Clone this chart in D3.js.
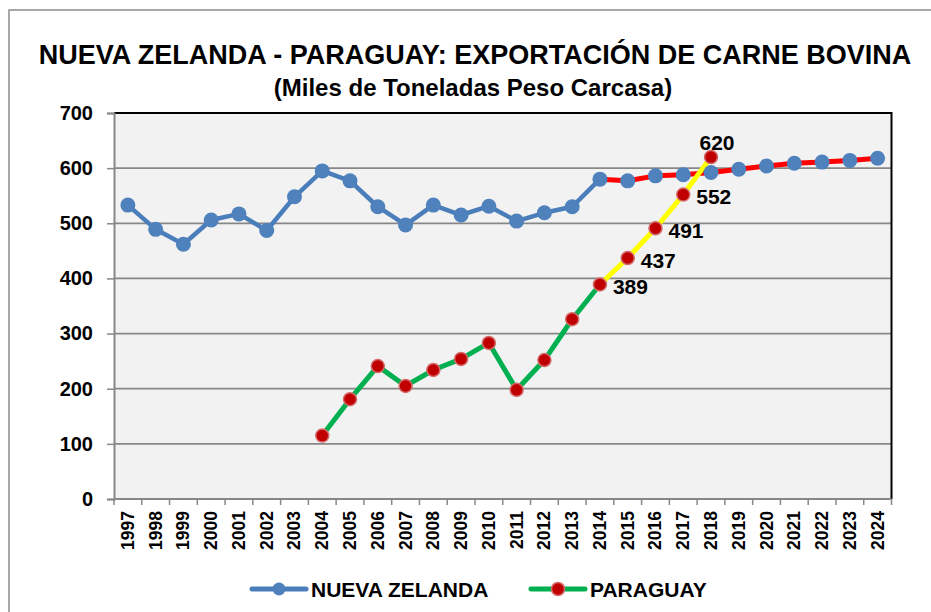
<!DOCTYPE html>
<html>
<head>
<meta charset="utf-8">
<script src="https://cdn.jsdelivr.net/npm/d3@7"></script>
<style>
  body { margin: 0; background: #ffffff; }
  text { font-family: Arial, "Liberation Sans", sans-serif; font-weight: bold; fill: #000; }
</style>
</head>
<body>
<div class="vis-holder"></div>
<script>
// years on the x axis
var years = ["1997","1998","1999","2000","2001","2002","2003","2004","2005","2006",
             "2007","2008","2009","2010","2011","2012","2013","2014","2015","2016",
             "2017","2018","2019","2020","2021","2022","2023","2024"];

// Nueva Zelanda exports, thousand tonnes (one per year)
var nzValues = [533, 489, 462, 506, 517, 487, 548, 595, 577, 530,
                497, 533, 515, 531, 504, 519, 530, 580, 577, 586,
                588, 592, 598, 604, 609, 611, 614, 618];

// Paraguay exports, starting 2004
var pyYears = ["2004","2005","2006","2007","2008","2009","2010","2011","2012","2013",
               "2014","2015","2016","2017","2018"];
var pyValues = [115, 181, 241, 205, 234, 254, 283, 198, 252, 326,
                389, 437, 491, 552, 620];

// years with a printed value label
var labelYears = ["2014","2015","2016","2017","2018"];

// y axis ticks
var yTicks = [0, 100, 200, 300, 400, 500, 600, 700];

var width = 931;
var height = 612;
var margin = { top: 113, bottom: 113, left: 114, right: 39.5 };

var svg = d3.select(".vis-holder")
            .append("svg")
            .attr("width", width)
            .attr("height", height);

// outer chart frame (runs off the right and bottom edges)
svg.append("rect")
   .attr("x", 9)
   .attr("y", 10)
   .attr("width", 960)
   .attr("height", 640)
   .attr("fill", "#ffffff")
   .attr("stroke", "#8c8c8c")
   .attr("stroke-width", 1.5);

var xScale = d3.scaleBand()
               .domain(years)
               .range([margin.left, width - margin.right]);

var yScale = d3.scaleLinear()
               .domain([0, 700])
               .range([height - margin.bottom, margin.top]);

var x = function(yr) { return xScale(yr) + xScale.bandwidth() / 2; };

// plot area background
svg.append("rect")
   .attr("x", margin.left)
   .attr("y", yScale(700))
   .attr("width", width - margin.right - margin.left)
   .attr("height", yScale(0) - yScale(700))
   .attr("fill", "#f2f2f2");

// horizontal gridlines
svg.append("g")
   .selectAll("line")
   .data(yTicks.filter(function(d) { return d > 0 && d < 700; }))
   .enter()
   .append("line")
   .attr("x1", margin.left)
   .attr("x2", width - margin.right)
   .attr("y1", function(d) { return yScale(d); })
   .attr("y2", function(d) { return yScale(d); })
   .attr("stroke", "#878787")
   .attr("stroke-width", 1.8);

// black border on top and right of the plot area
svg.append("path")
   .attr("d", "M" + margin.left + "," + yScale(700) + "H" + (width - margin.right) + "V" + yScale(0))
   .attr("fill", "none")
   .attr("stroke", "#000")
   .attr("stroke-width", 2);

// y axis
var yAxis = svg.append("g")
               .attr("transform", "translate(" + margin.left + ",0)")
               .call(d3.axisLeft(yScale).tickValues(yTicks).tickSize(7).tickPadding(14));
yAxis.select(".domain").attr("stroke", "#878787").attr("stroke-width", 2);
yAxis.selectAll(".tick line").attr("stroke", "#878787").attr("stroke-width", 1.5);
yAxis.selectAll(".tick text")
     .style("font-size", "20px")
     .style("font-weight", "bold")
     .attr("fill", "#000");

// x axis, ticks on band edges
var xAxis = svg.append("g")
               .attr("transform", "translate(0," + yScale(0) + ")");
xAxis.append("line")
     .attr("x1", margin.left)
     .attr("x2", width - margin.right)
     .attr("stroke", "#878787")
     .attr("stroke-width", 2);
xAxis.selectAll(".xtick")
     .data(years.concat(["end"]))
     .enter()
     .append("line")
     .attr("x1", function(d, i) { return i < years.length ? xScale(d) : width - margin.right; })
     .attr("x2", function(d, i) { return i < years.length ? xScale(d) : width - margin.right; })
     .attr("y1", 0)
     .attr("y2", 6)
     .attr("stroke", "#878787")
     .attr("stroke-width", 1.5);
xAxis.selectAll(".xlabel")
     .data(years)
     .enter()
     .append("text")
     .attr("text-anchor", "end")
     .attr("dominant-baseline", "central")
     .attr("transform", function(d) { return "translate(" + x(d) + ",12)rotate(-90)"; })
     .style("font-size", "17.5px")
     .text(function(d) { return d; });

var nzData = years.map(function(yr, i) { return { year: yr, v: nzValues[i] }; });
var pyData = pyYears.map(function(yr, i) { return { year: yr, v: pyValues[i] }; });

var line = d3.line()
             .x(function(d) { return x(d.year); })
             .y(function(d) { return yScale(d.v); });

// Nueva Zelanda line: blue up to 2014, red afterwards
svg.append("path")
   .attr("d", line(nzData.filter(function(d) { return +d.year <= 2014; })))
   .attr("fill", "none")
   .attr("stroke", "#4a7ebb")
   .attr("stroke-width", 4.5)
   .attr("stroke-linejoin", "round");
svg.append("path")
   .attr("d", line(nzData.filter(function(d) { return +d.year >= 2014; })))
   .attr("fill", "none")
   .attr("stroke", "#ff0000")
   .attr("stroke-width", 5)
   .attr("stroke-linejoin", "round");

// Paraguay line: green up to 2014, yellow afterwards
svg.append("path")
   .attr("d", line(pyData.filter(function(d) { return +d.year <= 2014; })))
   .attr("fill", "none")
   .attr("stroke", "#00b050")
   .attr("stroke-width", 5)
   .attr("stroke-linejoin", "round");
svg.append("path")
   .attr("d", line(pyData.filter(function(d) { return +d.year >= 2014; })))
   .attr("fill", "none")
   .attr("stroke", "#ffff00")
   .attr("stroke-width", 5)
   .attr("stroke-linejoin", "round");

// markers
svg.append("g")
   .selectAll("circle")
   .data(nzData)
   .enter()
   .append("circle")
   .attr("cx", function(d) { return x(d.year); })
   .attr("cy", function(d) { return yScale(d.v); })
   .attr("r", 7.5)
   .attr("fill", "#4f81bd");

svg.append("g")
   .selectAll("circle")
   .data(pyData)
   .enter()
   .append("circle")
   .attr("cx", function(d) { return x(d.year); })
   .attr("cy", function(d) { return yScale(d.v); })
   .attr("r", 6.5)
   .attr("fill", "#c00000")
   .attr("stroke", "#d46a6a")
   .attr("stroke-width", 1.5);

// value labels for Paraguay 2014-2018
svg.append("g")
   .selectAll("text")
   .data(pyData.filter(function(d) { return labelYears.indexOf(d.year) >= 0; }))
   .enter()
   .append("text")
   .attr("x", function(d) { return d.year === "2018" ? x(d.year) + 6 : x(d.year) + 13; })
   .attr("y", function(d) { return d.year === "2018" ? yScale(d.v) - 15 : yScale(d.v) + 2; })
   .attr("text-anchor", function(d) { return d.year === "2018" ? "middle" : "start"; })
   .attr("dominant-baseline", "central")
   .style("font-size", "21px")
   .text(function(d) { return d.v; });

// chart titles
svg.append("text")
   .attr("x", 475)
   .attr("y", 64)
   .attr("text-anchor", "middle")
   .style("font-size", "27px")
   .text("NUEVA ZELANDA - PARAGUAY: EXPORTACIÓN DE CARNE BOVINA");

svg.append("text")
   .attr("x", 473)
   .attr("y", 96)
   .attr("text-anchor", "middle")
   .style("font-size", "24px")
   .text("(Miles de Toneladas Peso Carcasa)");

// legend
var legend = [
  { name: "NUEVA ZELANDA", line: "#4a7ebb", fill: "#4f81bd", stroke: "none", x: 252 },
  { name: "PARAGUAY", line: "#00b050", fill: "#c00000", stroke: "#d46a6a", x: 531 }
];
var lg = svg.append("g")
            .selectAll("g")
            .data(legend)
            .enter()
            .append("g")
            .attr("transform", function(d) { return "translate(" + d.x + ",589)"; });
lg.append("line")
  .attr("x1", 0)
  .attr("x2", 54)
  .attr("stroke", function(d) { return d.line; })
  .attr("stroke-width", 5)
  .attr("stroke-linecap", "round");
lg.append("circle")
  .attr("cx", 27)
  .attr("r", 6.5)
  .attr("fill", function(d) { return d.fill; })
  .attr("stroke", function(d) { return d.stroke; })
  .attr("stroke-width", 1.5);
lg.append("text")
  .attr("x", 59)
  .attr("dominant-baseline", "central")
  .style("font-size", "21px")
  .text(function(d) { return d.name; });
</script>
</body>
</html>
